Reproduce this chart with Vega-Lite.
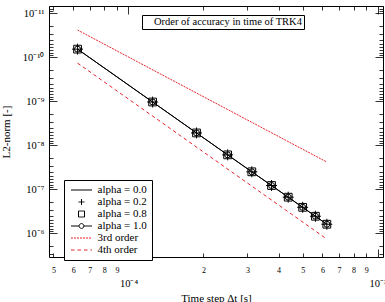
{
  "$schema": "https://vega.github.io/schema/vega-lite/v6.json",
  "width": 334,
  "height": 251,
  "autosize": {"type": "none"},
  "padding": {"left": 49, "top": 6, "right": 2, "bottom": 45},
  "config": {
    "font": "Liberation Serif",
    "view": {"stroke": "black", "strokeWidth": 1},
    "axis": {"grid": false, "domain": false, "tickColor": "black", "tickWidth": 0.8, "labelColor": "black", "titleColor": "black", "titleFontWeight": "normal", "labelFont": "Liberation Serif", "titleFont": "Liberation Serif"},
    "legend": {"labelFont": "Liberation Serif", "labelColor": "black", "labelFontWeight": "normal"}
  },
  "datasets": {
    "errors": [
      {"alpha": 0.0, "dt": 6.25e-5, "err": 6.6e-11}, {"alpha": 0.0, "dt": 1.25e-4, "err": 1.05e-9}, {"alpha": 0.0, "dt": 1.875e-4, "err": 5.3e-9}, {"alpha": 0.0, "dt": 2.5e-4, "err": 1.67e-8}, {"alpha": 0.0, "dt": 3.125e-4, "err": 4.05e-8}, {"alpha": 0.0, "dt": 3.75e-4, "err": 8.3e-8}, {"alpha": 0.0, "dt": 4.375e-4, "err": 1.53e-7}, {"alpha": 0.0, "dt": 5.0e-4, "err": 2.6e-7}, {"alpha": 0.0, "dt": 5.625e-4, "err": 4.15e-7}, {"alpha": 0.0, "dt": 6.25e-4, "err": 6.3e-7},
      {"alpha": 0.2, "dt": 6.25e-5, "err": 6.6e-11}, {"alpha": 0.2, "dt": 1.25e-4, "err": 1.05e-9}, {"alpha": 0.2, "dt": 1.875e-4, "err": 5.3e-9}, {"alpha": 0.2, "dt": 2.5e-4, "err": 1.67e-8}, {"alpha": 0.2, "dt": 3.125e-4, "err": 4.05e-8}, {"alpha": 0.2, "dt": 3.75e-4, "err": 8.3e-8}, {"alpha": 0.2, "dt": 4.375e-4, "err": 1.53e-7}, {"alpha": 0.2, "dt": 5.0e-4, "err": 2.6e-7}, {"alpha": 0.2, "dt": 5.625e-4, "err": 4.15e-7}, {"alpha": 0.2, "dt": 6.25e-4, "err": 6.3e-7},
      {"alpha": 0.8, "dt": 6.25e-5, "err": 6.6e-11}, {"alpha": 0.8, "dt": 1.25e-4, "err": 1.05e-9}, {"alpha": 0.8, "dt": 1.875e-4, "err": 5.3e-9}, {"alpha": 0.8, "dt": 2.5e-4, "err": 1.67e-8}, {"alpha": 0.8, "dt": 3.125e-4, "err": 4.05e-8}, {"alpha": 0.8, "dt": 3.75e-4, "err": 8.3e-8}, {"alpha": 0.8, "dt": 4.375e-4, "err": 1.53e-7}, {"alpha": 0.8, "dt": 5.0e-4, "err": 2.6e-7}, {"alpha": 0.8, "dt": 5.625e-4, "err": 4.15e-7}, {"alpha": 0.8, "dt": 6.25e-4, "err": 6.3e-7},
      {"alpha": 1.0, "dt": 6.25e-5, "err": 6.6e-11}, {"alpha": 1.0, "dt": 1.25e-4, "err": 1.05e-9}, {"alpha": 1.0, "dt": 1.875e-4, "err": 5.3e-9}, {"alpha": 1.0, "dt": 2.5e-4, "err": 1.67e-8}, {"alpha": 1.0, "dt": 3.125e-4, "err": 4.05e-8}, {"alpha": 1.0, "dt": 3.75e-4, "err": 8.3e-8}, {"alpha": 1.0, "dt": 4.375e-4, "err": 1.53e-7}, {"alpha": 1.0, "dt": 5.0e-4, "err": 2.6e-7}, {"alpha": 1.0, "dt": 5.625e-4, "err": 4.15e-7}, {"alpha": 1.0, "dt": 6.25e-4, "err": 6.3e-7}
    ],
    "refs": [
      {"order": "3rd order", "dt": 6.25e-5, "err": 2.43e-11},
      {"order": "3rd order", "dt": 6.25e-4, "err": 2.43e-8},
      {"order": "4th order", "dt": 6.25e-5, "err": 1.37e-10},
      {"order": "4th order", "dt": 6.25e-4, "err": 1.37e-6}
    ],
    "legend": [
      {"series": "alpha = 0.0"}, {"series": "alpha = 0.2"}, {"series": "alpha = 0.8"}, {"series": "alpha = 1.0"}, {"series": "3rd order"}, {"series": "4th order"}
    ],
    "note": [{"note": "Order of accuracy in time of TRK4"}]
  },
  "resolve": {"axis": {"x": "independent", "y": "independent"}},
  "layer": [
    {
      "data": {"name": "refs"},
      "transform": [{"filter": "datum.order == '4th order'"}],
      "mark": {"type": "line", "color": "#e8222a", "strokeDash": [3.5, 3], "strokeWidth": 1, "clip": true},
      "encoding": {
        "x": {"field": "dt", "type": "quantitative", "scale": {"type": "log", "domain": [4.8e-5, 1.05e-3], "nice": false},
          "axis": {"orient": "bottom", "values": [5e-5, 6e-5, 7e-5, 8e-5, 9e-5, 2e-4, 3e-4, 4e-4, 5e-4, 6e-4, 7e-4, 8e-4, 9e-4], "labelExpr": "slice(format(datum.value, '.0e'), 0, 1)", "tickSize": -4, "labelFontSize": 8, "labelPadding": 13, "title": null}},
        "y": {"field": "err", "type": "quantitative", "scale": {"type": "log", "domain": [6.9e-12, 3.5e-6], "reverse": true, "nice": false},
          "axis": {"orient": "left", "values": [1e-11, 1e-10, 1e-9, 1e-8, 1e-7, 1e-6], "labelExpr": "datum.value < 5e-11 ? '10⁻¹¹' : datum.value < 5e-10 ? '10⁻¹⁰' : datum.value < 5e-9 ? '10⁻⁹' : datum.value < 5e-8 ? '10⁻⁸' : datum.value < 5e-7 ? '10⁻⁷' : '10⁻⁶'", "tickSize": -8, "labelFontSize": 10.5, "labelPadding": 13, "title": "L2-norm [-]", "titleFontSize": 11, "titlePadding": 11}}
      }
    },
    {
      "data": {"name": "refs"},
      "transform": [{"filter": "datum.order == '3rd order'"}],
      "mark": {"type": "line", "color": "#e8222a", "strokeDash": [2, 1], "strokeWidth": 1, "clip": true},
      "encoding": {
        "x": {"field": "dt", "type": "quantitative", "scale": {"type": "log", "domain": [4.8e-5, 1.05e-3], "nice": false},
          "axis": {"orient": "bottom", "values": [1e-4, 1e-3], "labelExpr": "datum.value < 5e-4 ? '10⁻⁴' : '10⁻³'", "tickSize": -8, "labelFontSize": 10.5, "labelPadding": 29, "title": "Time step Δt [s]", "titleFontSize": 11, "titlePadding": 4}},
        "y": {"field": "err", "type": "quantitative", "scale": {"type": "log", "domain": [6.9e-12, 3.5e-6], "reverse": true, "nice": false},
          "axis": {"orient": "left", "values": [7e-12, 8e-12, 9e-12, 2e-11, 3e-11, 4e-11, 5e-11, 6e-11, 7e-11, 8e-11, 9e-11, 2e-10, 3e-10, 4e-10, 5e-10, 6e-10, 7e-10, 8e-10, 9e-10, 2e-9, 3e-9, 4e-9, 5e-9, 6e-9, 7e-9, 8e-9, 9e-9, 2e-8, 3e-8, 4e-8, 5e-8, 6e-8, 7e-8, 8e-8, 9e-8, 2e-7, 3e-7, 4e-7, 5e-7, 6e-7, 7e-7, 8e-7, 9e-7, 2e-6, 3e-6], "tickSize": -4, "labels": false, "title": null}}
      }
    },
    {
      "data": {"name": "errors"},
      "transform": [{"filter": "datum.alpha == 0 || datum.alpha == 1"}],
      "mark": {"type": "line", "color": "black", "strokeWidth": 1, "clip": true},
      "encoding": {
        "detail": {"field": "alpha", "type": "nominal"},
        "x": {"field": "dt", "type": "quantitative", "scale": {"type": "log", "domain": [4.8e-5, 1.05e-3], "nice": false},
          "axis": {"orient": "top", "values": [5e-5, 6e-5, 7e-5, 8e-5, 9e-5, 2e-4, 3e-4, 4e-4, 5e-4, 6e-4, 7e-4, 8e-4, 9e-4], "tickSize": -4, "labels": false, "title": null}},
        "y": {"field": "err", "type": "quantitative", "scale": {"type": "log", "domain": [6.9e-12, 3.5e-6], "reverse": true, "nice": false},
          "axis": {"orient": "right", "values": [7e-12, 8e-12, 9e-12, 2e-11, 3e-11, 4e-11, 5e-11, 6e-11, 7e-11, 8e-11, 9e-11, 2e-10, 3e-10, 4e-10, 5e-10, 6e-10, 7e-10, 8e-10, 9e-10, 2e-9, 3e-9, 4e-9, 5e-9, 6e-9, 7e-9, 8e-9, 9e-9, 2e-8, 3e-8, 4e-8, 5e-8, 6e-8, 7e-8, 8e-8, 9e-8, 2e-7, 3e-7, 4e-7, 5e-7, 6e-7, 7e-7, 8e-7, 9e-7, 2e-6, 3e-6], "tickSize": -4, "labels": false, "title": null}}
      }
    },
    {
      "data": {"name": "errors"},
      "transform": [{"filter": "datum.alpha == 0.8"}],
      "mark": {"type": "point", "shape": "square", "size": 60, "filled": false, "color": "black", "strokeWidth": 1, "opacity": 1, "clip": true},
      "encoding": {
        "x": {"field": "dt", "type": "quantitative", "scale": {"type": "log", "domain": [4.8e-5, 1.05e-3], "nice": false},
          "axis": {"orient": "top", "values": [1e-4, 1e-3], "tickSize": -8, "labels": false, "title": null}},
        "y": {"field": "err", "type": "quantitative", "scale": {"type": "log", "domain": [6.9e-12, 3.5e-6], "reverse": true, "nice": false},
          "axis": {"orient": "right", "values": [1e-11, 1e-10, 1e-9, 1e-8, 1e-7, 1e-6], "tickSize": -8, "labels": false, "title": null}}
      }
    },
    {
      "data": {"name": "errors"},
      "transform": [{"filter": "datum.alpha == 0.2"}],
      "mark": {"type": "point", "shape": "M-1,0H1M0,-1V1", "size": 120, "filled": false, "color": "black", "strokeWidth": 1, "opacity": 1, "clip": true},
      "encoding": {
        "x": {"field": "dt", "type": "quantitative", "scale": {"type": "log", "domain": [4.8e-5, 1.05e-3], "nice": false}, "axis": null},
        "y": {"field": "err", "type": "quantitative", "scale": {"type": "log", "domain": [6.9e-12, 3.5e-6], "reverse": true, "nice": false}, "axis": null}
      }
    },
    {
      "data": {"name": "errors"},
      "transform": [{"filter": "datum.alpha == 1"}],
      "mark": {"type": "point", "shape": "circle", "size": 36, "filled": false, "color": "black", "strokeWidth": 1, "opacity": 1, "clip": true},
      "encoding": {
        "x": {"field": "dt", "type": "quantitative", "scale": {"type": "log", "domain": [4.8e-5, 1.05e-3], "nice": false}, "axis": null},
        "y": {"field": "err", "type": "quantitative", "scale": {"type": "log", "domain": [6.9e-12, 3.5e-6], "reverse": true, "nice": false}, "axis": null}
      }
    },
    {
      "data": {"name": "legend"},
      "mark": {"type": "point", "opacity": 0, "filled": false, "size": 36, "strokeWidth": 1},
      "encoding": {
        "color": {"field": "series", "type": "nominal",
          "scale": {"domain": ["alpha = 0.0", "alpha = 0.2", "alpha = 0.8", "alpha = 1.0", "3rd order", "4th order"], "range": ["black", "black", "black", "black", "#e8222a", "#e8222a"]},
          "legend": {"title": null, "orient": "none", "legendX": 15, "legendY": 174, "strokeColor": "black", "fillColor": "white", "padding": 4.5, "symbolSize": 36, "symbolOpacity": 1, "symbolStrokeWidth": 1, "labelOffset": 18, "labelFontSize": 11, "labelFontWeight": "normal", "rowPadding": 0, "labelLimit": 200}},
        "shape": {"field": "series", "type": "nominal",
          "scale": {"domain": ["alpha = 0.0", "alpha = 0.2", "alpha = 0.8", "alpha = 1.0", "3rd order", "4th order"], "range": ["M-1,0H6", "M1.5,0H3.5M2.5,-1V1", "M1.5,-1H3.5V1H1.5Z", "M-1,0H1.7M3.3,0H6M3.3,0A0.8,0.8 0 1,1 1.7,0A0.8,0.8 0 1,1 3.3,0", "M-1,0H6", "M-1,0H6"]}},
        "strokeDash": {"field": "series", "type": "nominal",
          "scale": {"domain": ["alpha = 0.0", "alpha = 0.2", "alpha = 0.8", "alpha = 1.0", "3rd order", "4th order"], "range": [[1, 0], [1, 0], [1, 0], [1, 0], [2, 1], [3.5, 3]]}}
      }
    },
    {
      "data": {"name": "note"},
      "mark": {"type": "point", "opacity": 0, "size": 0},
      "encoding": {
        "fill": {"field": "note", "type": "nominal", "scale": {"range": ["white"]},
          "legend": {"title": null, "orient": "none", "legendX": 93, "legendY": 9, "strokeColor": "black", "fillColor": "white", "padding": 1.5, "symbolSize": 0, "symbolOpacity": 0, "symbolStrokeWidth": 0, "labelOffset": 0, "labelFontSize": 10.5, "labelFontWeight": "normal", "labelLimit": 400}}
      }
    }
  ]
}
